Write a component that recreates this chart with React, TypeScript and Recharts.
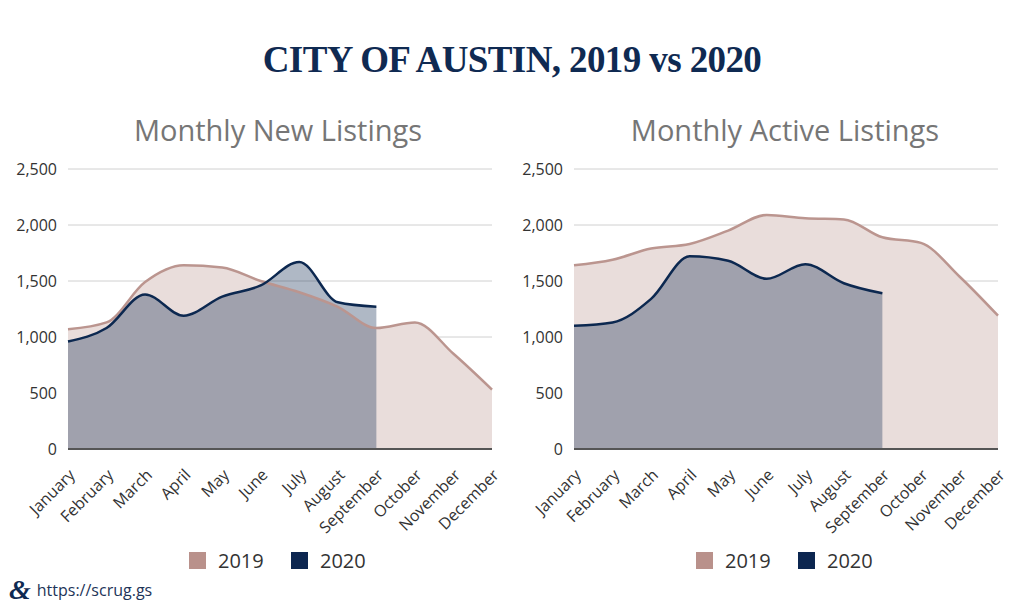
import React from 'react';
import { ComposedChart, Area, Line, XAxis, YAxis, CartesianGrid } from 'recharts';

const months = [
  'January', 'February', 'March', 'April', 'May', 'June',
  'July', 'August', 'September', 'October', 'November', 'December',
];

// monthly new listings
const newListings2019 = [1070, 1130, 1490, 1640, 1620, 1500, 1400, 1270, 1080, 1130, 850, 530];
const newListings2020 = [960, 1080, 1380, 1190, 1360, 1460, 1670, 1310, 1270];

// monthly active listings
const activeListings2019 = [1640, 1690, 1790, 1830, 1950, 2090, 2060, 2050, 1890, 1840, 1540, 1190];
const activeListings2020 = [1100, 1130, 1340, 1720, 1680, 1520, 1650, 1480, 1390];

const yTicks = [0, 500, 1000, 1500, 2000, 2500];

const PINK = '#bb958f';
const PINK_FILL = '#e9dddb';
const NAVY = '#0c2850';

const buildRows = (a: number[], b: number[]) =>
  months.map((m, i) => ({ month: m, y2019: a[i] ?? null, y2020: b[i] ?? null }));

const MonthTick = (props: any) => {
  const { x, y, payload } = props;
  const ax = x + 8;
  const ay = y + 19;
  return (
    <text
      x={ax}
      y={ay}
      transform={`rotate(-45 ${ax} ${ay})`}
      textAnchor="end"
      fontSize={16}
      fill="#333"
      fontFamily="'Open Sans', sans-serif"
    >
      {payload.value}
    </text>
  );
};

interface PanelProps {
  rows: { month: string; y2019: number | null; y2020: number | null }[];
  width: number;
  yWidth: number;
  rightMargin: number;
}

const Panel: React.FC<PanelProps> = ({ rows, width, yWidth, rightMargin }) => (
  <ComposedChart width={width} height={390} data={rows} margin={{ top: 19, right: rightMargin, left: 0, bottom: 0 }}>
    <CartesianGrid vertical={false} stroke="#d0d0d0" />
    <XAxis
      dataKey="month"
      interval={0}
      height={91}
      tickLine={false}
      axisLine={{ stroke: '#555', strokeWidth: 2 }}
      tick={<MonthTick />}
    />
    <YAxis
      width={yWidth}
      domain={[0, 2500]}
      ticks={yTicks}
      axisLine={false}
      tickLine={false}
      tickMargin={5}
      tick={{ fontSize: 16, fill: '#333', fontFamily: "'Open Sans', sans-serif" }}
      tickFormatter={(v: number) => v.toLocaleString('en-US')}
    />
    <Area type="monotone" dataKey="y2019" stroke="none" fill={PINK_FILL} fillOpacity={1} isAnimationActive={false} />
    <Area type="monotone" dataKey="y2020" stroke="none" fill={NAVY} fillOpacity={0.33} isAnimationActive={false} />
    <Line type="monotone" dataKey="y2019" stroke={PINK} strokeWidth={2.5} dot={false} isAnimationActive={false} />
    <Line type="monotone" dataKey="y2020" stroke={NAVY} strokeWidth={2.5} dot={false} isAnimationActive={false} />
  </ComposedChart>
);

const LegendRow = ({ left }: { left: number }) => {
  const item = (color: string, label: string, x: number) => (
    <div style={{ position: 'absolute', left: x, top: 0, display: 'flex', alignItems: 'center', height: 20 }}>
      <div style={{ width: 17, height: 17, background: color }} />
      <span style={{ marginLeft: 12, fontSize: 20, color: '#333' }}>{label}</span>
    </div>
  );
  return (
    <div style={{ position: 'absolute', left, top: 550, height: 20 }}>
      {item('#b9918b', '2019', 0)}
      {item('#0c2650', '2020', 102)}
    </div>
  );
};

export default function App() {
  return (
    <div
      style={{
        position: 'absolute',
        left: 0,
        top: 0,
        width: 1024,
        height: 609,
        background: '#fff',
        fontFamily: "'Open Sans', sans-serif",
        overflow: 'hidden',
      }}
    >
      <div
        style={{
          position: 'absolute',
          top: 40,
          width: 1024,
          textAlign: 'center',
          fontFamily: "'Liberation Serif', serif",
          fontWeight: 700,
          fontSize: 37,
          letterSpacing: -0.6,
          lineHeight: '40px',
          color: '#0f2a52',
        }}
      >
        CITY OF AUSTIN, 2019 vs 2020
      </div>
      <div style={{ position: 'absolute', top: 111, left: 0, width: 556, textAlign: 'center', fontSize: 29, lineHeight: '38px', color: '#767676' }}>
        Monthly New Listings
      </div>
      <div style={{ position: 'absolute', top: 111, left: 546, width: 478, textAlign: 'center', fontSize: 29, lineHeight: '38px', color: '#767676' }}>
        Monthly Active Listings
      </div>

      <div style={{ position: 'absolute', left: 0, top: 150 }}>
        <Panel rows={buildRows(newListings2019, newListings2020)} width={512} yWidth={68} rightMargin={20} />
      </div>
      <div style={{ position: 'absolute', left: 505, top: 150 }}>
        <Panel rows={buildRows(activeListings2019, activeListings2020)} width={519} yWidth={69} rightMargin={26} />
      </div>

      <LegendRow left={189} />
      <LegendRow left={696} />

      <div style={{ position: 'absolute', left: 9, top: 575, display: 'flex', alignItems: 'center', height: 30 }}>
        <span style={{ fontFamily: "'Liberation Serif', serif", fontWeight: 700, fontStyle: 'italic', fontSize: 28, color: '#0f2a52' }}>&amp;</span>
        <span style={{ marginLeft: 6, fontSize: 16, color: '#1d3458' }}>https://scrug.gs</span>
      </div>
    </div>
  );
}
